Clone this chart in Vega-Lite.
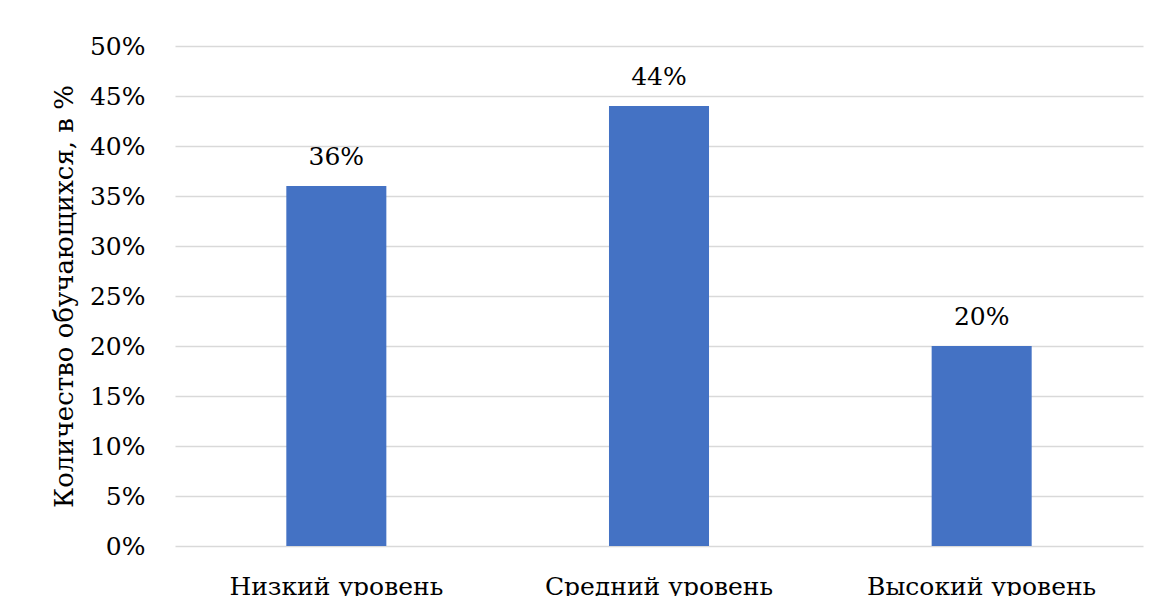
{
  "$schema": "https://vega.github.io/schema/vega-lite/v6.json",
  "width": 968,
  "height": 500,
  "autosize": "none",
  "padding": {"left": 175, "top": 46, "right": 17, "bottom": 50},
  "background": "white",
  "config": {
    "view": {"stroke": null},
    "font": "DejaVu Serif"
  },
  "data": {
    "values": [
      {"level": "Низкий уровень", "value": 0.36},
      {"level": "Средний уровень", "value": 0.44},
      {"level": "Высокий уровень", "value": 0.20}
    ]
  },
  "encoding": {
    "x": {
      "field": "level",
      "type": "nominal",
      "sort": null,
      "scale": {"paddingInner": 0.69, "paddingOuter": 0.345},
      "axis": {
        "title": null,
        "labelAngle": 0,
        "labelFont": "DejaVu Serif",
        "labelFontSize": 25,
        "labelLimit": 0,
        "labelColor": "#000000",
        "labelPadding": 28,
        "ticks": false,
        "domain": false
      }
    },
    "y": {
      "field": "value",
      "type": "quantitative",
      "scale": {"domain": [0, 0.5]},
      "axis": {
        "values": [0, 0.05, 0.1, 0.15, 0.2, 0.25, 0.3, 0.35, 0.4, 0.45, 0.5],
        "format": ".0%",
        "title": "Количество обучающихся, в %",
        "titleFont": "DejaVu Serif",
        "titleFontSize": 26,
        "titleFontWeight": "normal",
        "titleColor": "#000000",
        "titlePadding": 12,
        "labelFont": "DejaVu Serif",
        "labelFontSize": 25,
        "labelColor": "#000000",
        "labelPadding": 30,
        "ticks": false,
        "domain": false,
        "grid": true,
        "gridColor": "#d9d9d9",
        "gridWidth": 1.3
      }
    }
  },
  "layer": [
    {"mark": {"type": "bar", "color": "#4472C4"}},
    {
      "mark": {"type": "text", "dy": -29, "font": "DejaVu Serif", "fontSize": 25, "color": "#000000"},
      "encoding": {"text": {"field": "value", "type": "quantitative", "format": ".0%"}}
    }
  ]
}
